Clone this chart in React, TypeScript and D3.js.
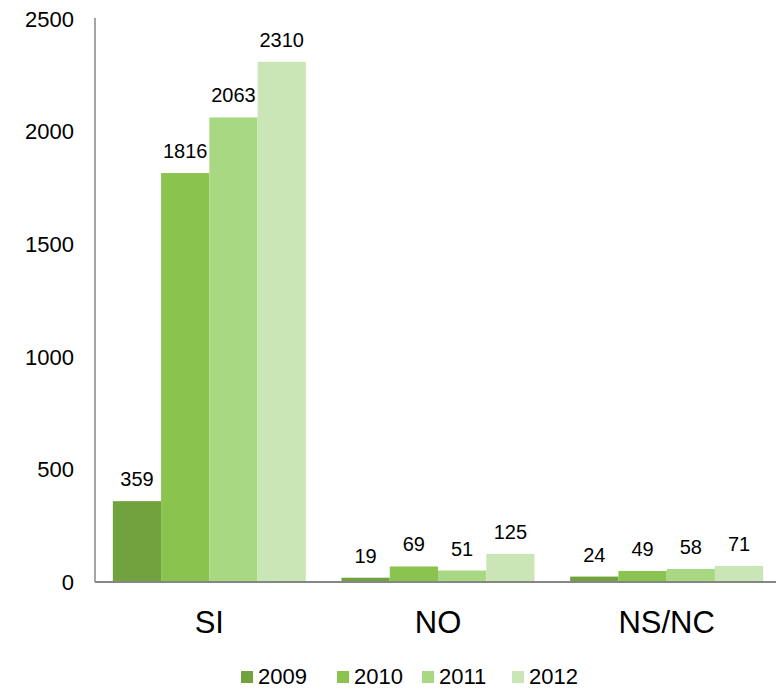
import React, { useEffect, useRef } from 'react';
import * as d3 from 'd3';

const categories = ['SI', 'NO', 'NS/NC'];
const years = ['2009', '2010', '2011', '2012'];
const values2009 = [359, 19, 24];
const values2010 = [1816, 69, 49];
const values2011 = [2063, 51, 58];
const values2012 = [2310, 125, 71];
const yTicks = [0, 500, 1000, 1500, 2000, 2500];
const colors = ['#72a23e', '#8bc34f', '#a9d882', '#cae6b6'];

const App: React.FC = () => {
  const svgRef = useRef<SVGSVGElement>(null);

  useEffect(() => {
    if (!svgRef.current) return;
    const svg = d3.select(svgRef.current);
    svg.selectAll('*').remove();

    const width = 776;
    const height = 689;
    const margin = { top: 19, right: -5, bottom: 107, left: 95 };
    const font = "'Liberation Sans', Arial, sans-serif";

    const series = [values2009, values2010, values2011, values2012];

    const x = d3
      .scaleBand()
      .domain(categories)
      .range([margin.left, width - margin.right])
      .paddingInner(0.156)
      .paddingOuter(0.078);

    const xInner = d3.scaleBand().domain(years).range([0, x.bandwidth()]).padding(0);

    const y = d3
      .scaleLinear()
      .domain([0, 2500])
      .range([height - margin.bottom, margin.top]);

    // bars + value labels
    categories.forEach((cat, ci) => {
      const g = svg.append('g').attr('transform', `translate(${x(cat)},0)`);
      years.forEach((yr, yi) => {
        const v = series[yi][ci];
        g.append('rect')
          .attr('x', xInner(yr) || 0)
          .attr('y', y(v))
          .attr('width', xInner.bandwidth())
          .attr('height', y(0) - y(v))
          .attr('fill', colors[yi]);
        g.append('text')
          .attr('x', (xInner(yr) || 0) + xInner.bandwidth() / 2)
          .attr('y', y(v) - 15)
          .attr('text-anchor', 'middle')
          .attr('font-family', font)
          .attr('font-size', 20)
          .attr('fill', '#000')
          .text(v);
      });
    });

    // y axis
    svg
      .append('line')
      .attr('x1', margin.left)
      .attr('x2', margin.left)
      .attr('y1', y(2500) - 1)
      .attr('y2', y(0))
      .attr('stroke', '#868686')
      .attr('stroke-width', 1.5);

    svg
      .selectAll('text.ytick')
      .data(yTicks)
      .enter()
      .append('text')
      .attr('class', 'ytick')
      .attr('x', 74)
      .attr('y', (d) => y(d))
      .attr('dy', '0.35em')
      .attr('text-anchor', 'end')
      .attr('font-family', font)
      .attr('font-size', 22)
      .text((d) => d);

    // x axis
    svg
      .append('line')
      .attr('x1', margin.left)
      .attr('x2', width)
      .attr('y1', y(0))
      .attr('y2', y(0))
      .attr('stroke', '#868686')
      .attr('stroke-width', 2);

    svg
      .selectAll('text.xtick')
      .data(categories)
      .enter()
      .append('text')
      .attr('class', 'xtick')
      .attr('x', (d) => (x(d) || 0) + x.bandwidth() / 2)
      .attr('y', 633)
      .attr('text-anchor', 'middle')
      .attr('font-family', font)
      .attr('font-size', 31)
      .text((d) => d);

    // legend
    const legendX = [241, 337, 422, 512];
    years.forEach((yr, i) => {
      svg
        .append('rect')
        .attr('x', legendX[i])
        .attr('y', 671)
        .attr('width', 12)
        .attr('height', 12)
        .attr('fill', colors[i]);
      svg
        .append('text')
        .attr('x', legendX[i] + 17)
        .attr('y', 684)
        .attr('font-family', font)
        .attr('font-size', 22)
        .text(yr);
    });
  }, []);

  return (
    <svg
      ref={svgRef}
      width="776"
      height="689"
      style={{ position: 'absolute', left: 0, top: 0, background: '#fff' }}
    ></svg>
  );
};

export default App;
